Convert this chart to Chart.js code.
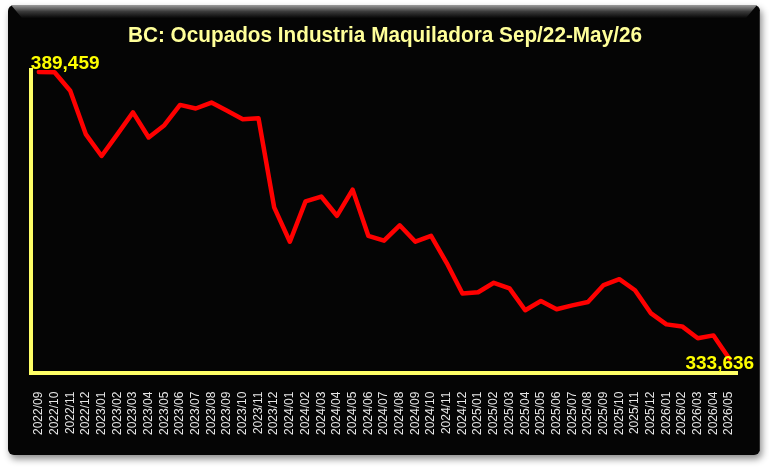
<!DOCTYPE html>
<html>
<head>
<meta charset="utf-8">
<script src="https://cdn.jsdelivr.net/npm/chart.js@4.4.0/dist/chart.umd.min.js"></script>
<style>
  html, body { margin: 0; padding: 0; background: #fff; }
  canvas { display: block; }
</style>
</head>
<body>
<canvas id="chart" width="769" height="468"></canvas>
<script>
// months on the x axis
const months = [
  '2022/09', '2022/10', '2022/11', '2022/12',
  '2023/01', '2023/02', '2023/03', '2023/04', '2023/05', '2023/06',
  '2023/07', '2023/08', '2023/09', '2023/10', '2023/11', '2023/12',
  '2024/01', '2024/02', '2024/03', '2024/04', '2024/05', '2024/06',
  '2024/07', '2024/08', '2024/09', '2024/10', '2024/11', '2024/12',
  '2025/01', '2025/02', '2025/03', '2025/04', '2025/05', '2025/06',
  '2025/07', '2025/08', '2025/09', '2025/10', '2025/11', '2025/12',
  '2026/01', '2026/02', '2026/03', '2026/04', '2026/05'
];

// employed persons, maquiladora industry (BC)
const ocupados = [
  389459, 389400, 385800, 377300,
  373100, 377300, 381600, 376700, 379100, 383050,
  382350, 383500, 381900, 380250, 380450, 363100,
  356400, 364250, 365200, 361450, 366550, 357550,
  356600, 359600, 356400, 357550, 352250, 346300,
  346550, 348400, 347300, 343050, 344850, 343250,
  344000, 344650, 347950, 349100, 346950, 342500,
  340300, 339900, 337600, 338150, 333636
];

const titleText = 'BC: Ocupados Industria Maquiladora Sep/22-May/26';

// black panel with bevelled top edge + title
const panelBg = {
  id: 'panelBg',
  beforeDraw(chart) {
    const c = chart.ctx;
    const x = 8, y = 5, w = 752, h = 450, r = 6;
    c.save();
    c.fillStyle = '#fff';
    c.fillRect(0, 0, chart.width, chart.height);
    c.shadowColor = 'rgba(0,0,0,0.45)';
    c.shadowBlur = 7;
    c.shadowOffsetX = 2;
    c.shadowOffsetY = 4;
    c.beginPath();
    c.roundRect(x, y, w, h, r);
    c.fillStyle = '#050505';
    c.fill();
    c.restore();

    c.save();
    const g = c.createLinearGradient(0, y, 0, y + 13);
    g.addColorStop(0, '#9c9c9c');
    g.addColorStop(0.5, '#3a3a3a');
    g.addColorStop(1, '#070707');
    c.beginPath();
    c.moveTo(x + 3, y);
    c.lineTo(x + w - 3, y);
    c.lineTo(x + w - 14, y + 13);
    c.lineTo(x + 14, y + 13);
    c.closePath();
    c.fillStyle = g;
    c.fill();
    c.strokeStyle = '#2a2a2a';
    c.lineWidth = 1;
    c.beginPath();
    c.moveTo(x + w - 0.5, y + 6);
    c.lineTo(x + w - 0.5, y + h - 4);
    c.stroke();
    c.restore();

    // condensed bold title (narrow face not installed, so squeeze Liberation Sans)
    c.save();
    c.font = 'bold 22px "Liberation Sans", Arial, sans-serif';
    c.fillStyle = '#FFFF99';
    c.textAlign = 'center';
    c.textBaseline = 'middle';
    const tw = c.measureText(titleText).width;
    const sx = Math.min(1, 514 / tw);
    c.translate(385, 36);
    c.scale(sx, 1);
    c.fillText(titleText, 0, 0);
    c.restore();
  }
};

// first and last value labels
const endLabels = {
  id: 'endLabels',
  afterDatasetsDraw(chart) {
    const c = chart.ctx;
    const pts = chart.getDatasetMeta(0).data;
    const vals = chart.data.datasets[0].data;
    const first = pts[0], last = pts[pts.length - 1];
    c.save();
    c.font = 'bold 19px "Liberation Sans", Arial, sans-serif';
    c.fillStyle = '#FFFF00';
    c.textBaseline = 'alphabetic';
    c.textAlign = 'left';
    c.fillText(vals[0].toLocaleString('en-US'), first.x - 8, first.y - 3);
    c.textAlign = 'right';
    c.fillText(vals[vals.length - 1].toLocaleString('en-US'), last.x + 25, last.y + 10);
    c.restore();
  }
};

const ctx = document.getElementById('chart').getContext('2d');
const chart = new Chart(ctx, {
  type: 'line',
  data: {
    labels: months,
    datasets: [{
      data: ocupados,
      borderColor: '#FF0000',
      borderWidth: 4.5,
      pointRadius: 0,
      tension: 0,
      borderJoinStyle: 'round',
      borderCapStyle: 'round'
    }]
  },
  options: {
    responsive: false,
    animation: false,
    layout: {
      padding: { top: 70, left: 31, right: 32, bottom: 14 }
    },
    plugins: {
      legend: { display: false },
      tooltip: { enabled: false },
      title: { display: false }
    },
    scales: {
      x: {
        type: 'category',
        offset: true,
        grid: { display: false, drawTicks: false },
        border: { display: true, color: '#FFFF66', width: 4 },
        ticks: {
          color: '#E6E6E6',
          font: { family: '"Liberation Sans", Arial, sans-serif', size: 12 },
          minRotation: 90,
          maxRotation: 90,
          autoSkip: false,
          padding: 19
        }
      },
      y: {
        min: 330900,
        max: 389850,
        grid: { display: false, drawTicks: false },
        border: { display: true, color: '#FFFF66', width: 4 },
        ticks: { display: false }
      }
    }
  },
  plugins: [panelBg, endLabels]
});
</script>
</body>
</html>
